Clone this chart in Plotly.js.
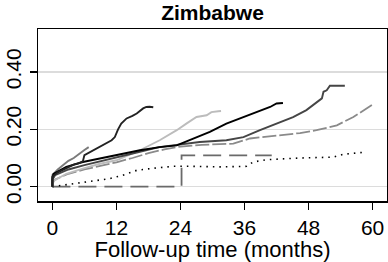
<!DOCTYPE html>
<html>
<head>
<meta charset="utf-8">
<script src="https://cdn.plot.ly/plotly-3.0.1.min.js"></script>
<style>html,body{margin:0;padding:0;background:#fff;}#chart{width:388px;height:262px;}</style>
</head>
<body>
<div id="chart"></div>
<script>
// Cumulative incidence curves (months, proportion)
const curveA_t = [0, 0, 1, 2, 3, 4, 5, 5.7, 6.0, 7, 8.3, 10, 11.1, 11.7, 12.3, 12.9, 13.9, 15, 15.8, 17, 17.6, 18.2, 18.9];
const curveA_y = [0, 0.035, 0.05, 0.06, 0.07, 0.077, 0.082, 0.088, 0.11, 0.12, 0.133, 0.15, 0.162, 0.173, 0.2, 0.22, 0.238, 0.247, 0.255, 0.273, 0.278, 0.279, 0.277];

const curveB_t = [0, 0, 1, 2, 3, 4, 5, 6, 6.8];
const curveB_y = [0, 0.04, 0.06, 0.075, 0.09, 0.10, 0.115, 0.128, 0.138];

const curveC_t = [0, 0, 0.4, 2.6, 5.7, 8.9, 12, 16.4, 20.1, 23.3, 25.1, 27, 28.9, 29.8, 31.1, 31.6];
const curveC_y = [0, 0.01, 0.022, 0.045, 0.063, 0.08, 0.092, 0.127, 0.162, 0.197, 0.22, 0.243, 0.249, 0.26, 0.263, 0.264];

const curveD_t = [0, 0, 0.2, 2.6, 5.7, 8.9, 12, 16.4, 20.1, 23.3, 26.4, 29.5, 32.6, 35.8, 38.9, 40.8, 42, 43.2];
const curveD_y = [0, 0.03, 0.045, 0.069, 0.086, 0.098, 0.109, 0.127, 0.138, 0.144, 0.168, 0.191, 0.22, 0.243, 0.267, 0.278, 0.29, 0.292];

const curveE_t = [0, 0, 0.5, 3, 6, 9, 12, 16, 20, 23.8, 27.6, 32.6, 35.8, 38.9, 42, 45.1, 47.6, 49.5, 50.5, 50.8, 51.4, 52, 54.8];
const curveE_y = [0, 0.025, 0.04, 0.06, 0.075, 0.088, 0.1, 0.12, 0.138, 0.147, 0.156, 0.162, 0.173, 0.197, 0.22, 0.243, 0.267, 0.296, 0.308, 0.331, 0.336, 0.352, 0.352];

const curveF_t = [0, 0, 0.5, 3, 6, 9, 12, 15, 18, 21, 24, 28, 33.9, 37, 43.3, 46.4, 49.5, 53.3, 56.4, 59.5, 59.9];
const curveF_y = [0, 0.015, 0.025, 0.045, 0.06, 0.072, 0.085, 0.1, 0.117, 0.13, 0.14, 0.146, 0.15, 0.168, 0.179, 0.187, 0.197, 0.214, 0.243, 0.278, 0.285];

const curveG_t = [0, 2.9, 5.1, 7.6, 10.7, 13.2, 15.8, 18.3, 22.6, 25.7, 31.4, 36.4, 37.6, 40.1, 46.4, 52.6, 54.5, 58.9];
const curveG_y = [0, 0.008, 0.013, 0.02, 0.028, 0.04, 0.057, 0.063, 0.071, 0.071, 0.069, 0.071, 0.086, 0.094, 0.1, 0.103, 0.113, 0.121];

const curveH_t = [0, 24.2, 41.1];
const curveH_y = [0, 0.109, 0.109];

const xTicks = [0, 12, 24, 36, 48, 60];
const yTicks = [0, 0.2, 0.4];
const yTickText = ['0.00', '0.20', '0.40'];

function tr(t, y, color, dash, width, shape) {
  return {x: t, y: y, type: 'scatter', mode: 'lines',
    line: {color: color, width: width || 1.8, dash: dash || 'solid', shape: shape || 'linear'},
    hoverinfo: 'skip', showlegend: false};
}

const data = [
  tr(curveH_t, curveH_y, '#6a6a6a', '18px,8px', 1.8, 'hv'),
  tr(curveG_t, curveG_y, '#000000', '1.5px,5px', 1.6),
  tr(curveF_t, curveF_y, '#8a8a8a', '14px,3px', 1.8),
  tr(curveC_t, curveC_y, '#bcbcbc', 'solid', 1.9),
  tr(curveE_t, curveE_y, '#454545', 'solid', 1.9),
  tr(curveB_t, curveB_y, '#7a7a7a', 'solid', 1.9),
  tr(curveD_t, curveD_y, '#000000', 'solid', 1.9),
  tr(curveA_t, curveA_y, '#222222', 'solid', 1.9)
];

const layout = {
  width: 388, height: 262,
  margin: {l: 38, r: 1, t: 29, b: 61, pad: 0},
  paper_bgcolor: '#ffffff', plot_bgcolor: '#ffffff',
  font: {family: 'Liberation Sans, Arial, sans-serif', color: '#000'},
  title: {text: '<b>Zimbabwe</b>', font: {size: 21, color: '#000'}, x: 0.5, xref: 'paper', y: 0.95, yref: 'container', yanchor: 'middle'},
  xaxis: {
    range: [-2.7, 62.7], tickvals: xTicks, ticktext: xTicks.map(String),
    ticks: 'outside', ticklen: 7, tickwidth: 1.2, tickcolor: '#000',
    tickfont: {size: 21, color: '#000'},
    showgrid: false, zeroline: false,
    showline: true, linecolor: '#000', linewidth: 1.5, mirror: true,
    title: {text: 'Follow-up time (months)', font: {size: 22, color: '#000'}, standoff: 4}
  },
  yaxis: {
    range: [-0.05, 0.55], tickvals: yTicks, ticktext: yTickText,
    tickangle: -90,
    ticks: 'outside', ticklen: 7, tickwidth: 1.2, tickcolor: '#000',
    tickfont: {size: 21, color: '#000'},
    showgrid: true, gridcolor: '#dcdcdc', gridwidth: 1.5, zeroline: false,
    showline: true, linecolor: '#000', linewidth: 1.5, mirror: true
  }
};

Plotly.newPlot('chart', data, layout, {staticPlot: true, displayModeBar: false});
</script>
</body>
</html>
